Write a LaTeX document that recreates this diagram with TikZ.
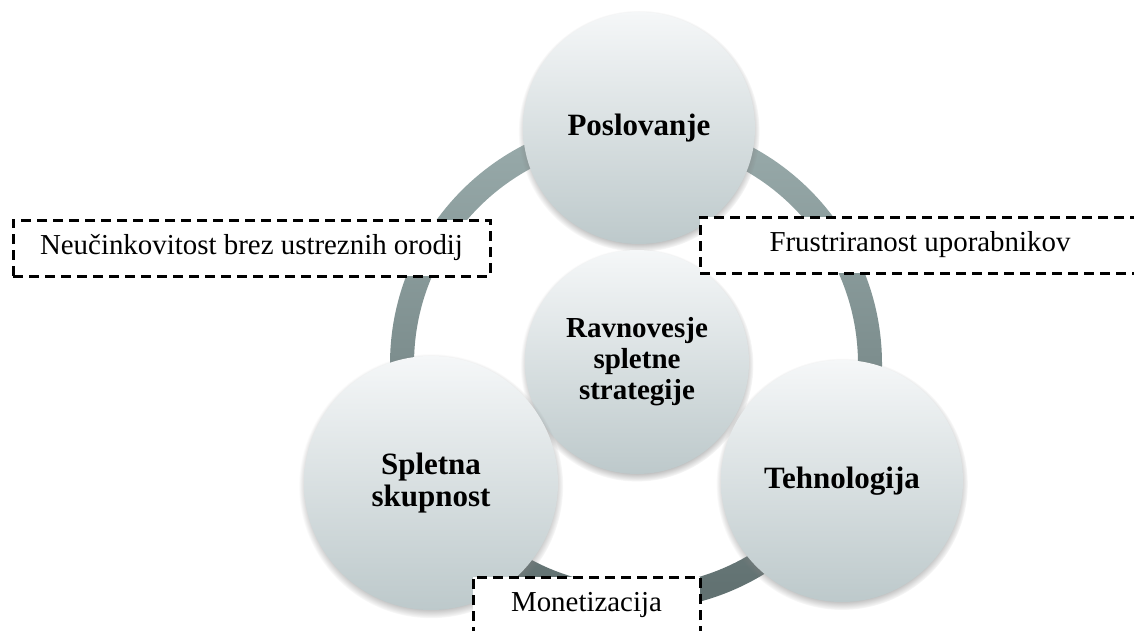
\documentclass[tikz,border=0pt]{standalone}
\usepackage{fontspec}
\setmainfont{Liberation Serif}
\usetikzlibrary{shadows,fadings}
\definecolor{sphtop}{HTML}{F5F7F8}
\definecolor{sphbot}{HTML}{BDC9CB}
\definecolor{ringtop}{HTML}{9AACAC}
\definecolor{ringbot}{HTML}{5F6F6F}
\begin{document}
\begin{tikzpicture}[x=1pt,y=-1pt,
  sphere/.style={circle, draw=none, inner sep=0pt, align=center,
    top color=sphtop, bottom color=sphbot,
    circular drop shadow={shadow xshift=0pt, shadow yshift=-3pt, shadow scale=1.04},
    font=\bfseries\fontsize{31}{32}\selectfont},
  note/.style={draw=black, line width=3pt, dash pattern=on 10pt off 6pt,
    fill=white, inner sep=0pt, minimum height=56pt,
    font=\fontsize{28.9}{30}\selectfont}]
\useasboundingbox (0,0) rectangle (1134,631);
\fill[white] (0,0) rectangle (1134,631);
\clip (0,0) rectangle (1134,631);
% ring
\coordinate (rc) at (636,364);
\shade[top color=ringtop, bottom color=ringbot, even odd rule]
  (rc) circle[radius=246pt] (rc) circle[radius=222pt];
% spheres
\node[sphere, minimum size=232pt] (posl) at (639,128) {Poslovanje};
\node[sphere, minimum size=224pt, font=\bfseries\fontsize{29}{31}\selectfont] (ravn) at (637,362) {Ravnovesje\\spletne\\strategije};
\node[sphere, minimum size=242pt] (tehn) at (842,481) {Tehnologija};
\node[sphere, minimum size=254pt] (sple) at (431,483) {Spletna\\skupnost};
% notes
\node[note, minimum width=477pt] (neuc) at (251.5,248) {Neučinkovitost brez ustreznih orodij};
\node[note, minimum width=440pt] (frus) at (920,245) {Frustriranost uporabnikov};
\node[note, minimum width=227pt] (mone) at (586.5,605) {Monetizacija};
\end{tikzpicture}
\end{document}
